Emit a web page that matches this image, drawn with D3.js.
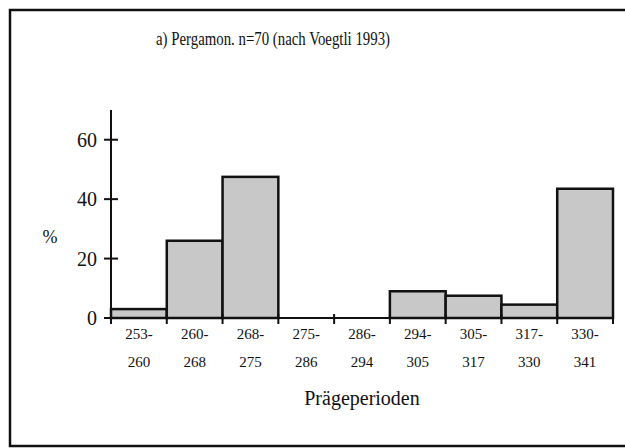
<!DOCTYPE html>
<html lang="en">
<head>
  <meta charset="UTF-8">
  <title>Pergamon</title>
  <script src="https://d3js.org/d3.v7.min.js"></script>
  <style>
    html, body {
      margin: 0;
      background-color: #ffffff;
      overflow: hidden;
    }
    svg {
      display: block;
    }
    svg text {
      font-family: 'Liberation Serif', 'DejaVu Serif', serif;
      fill: #111;
    }
  </style>
</head>
<body>
  <div id="chart"></div>
  <script>
    // periods (two-line tick labels) and share in %
    const periodFrom = ['253-', '260-', '268-', '275-', '286-', '294-', '305-', '317-', '330-']
    const periodTo = ['260', '268', '275', '286', '294', '305', '317', '330', '341']
    const percent = [3, 26, 47.5, 0, 0, 9, 7.5, 4.5, 43.5]
    const yTicks = [0, 20, 40, 60]

    const width = 625
    const height = 448

    const svg = d3.select('#chart').append('svg')
      .attr('width', width)
      .attr('height', height)

    // frame (right side runs off the picture)
    svg.append('path')
      .attr('d', 'M640,10 L10,10 L10,446 L640,446')
      .attr('fill', 'none')
      .attr('stroke', '#111')
      .attr('stroke-width', 2.5)

    const x = d3.scaleBand()
      .domain(d3.range(periodFrom.length))
      .range([111, 613])
      .padding(0)

    const y = d3.scaleLinear()
      .domain([0, 70])
      .range([318, 110])

    // bars
    svg.selectAll('.bar')
      .data(percent.map((v, i) => ({ v, i })).filter(d => d.v > 0))
      .enter()
      .append('rect')
      .attr('class', 'bar')
      .attr('x', d => x(d.i))
      .attr('y', d => y(d.v))
      .attr('width', x.bandwidth())
      .attr('height', d => y(0) - y(d.v))
      .attr('fill', '#c8c8c8')
      .attr('stroke', '#111')
      .attr('stroke-width', 2.5)

    // y axis
    svg.append('line')
      .attr('x1', 111).attr('x2', 111)
      .attr('y1', y(70)).attr('y2', y(0) + 3)
      .attr('stroke', '#111').attr('stroke-width', 2)

    svg.selectAll('.ytick')
      .data(yTicks)
      .enter()
      .append('line')
      .attr('x1', 104).attr('x2', 118)
      .attr('y1', d => y(d)).attr('y2', d => y(d))
      .attr('stroke', '#111').attr('stroke-width', 2)

    svg.selectAll('.ylabel')
      .data(yTicks)
      .enter()
      .append('text')
      .text(d => d)
      .attr('x', 97)
      .attr('y', d => y(d) + 7)
      .attr('text-anchor', 'end')
      .style('font-size', '20px')

    svg.append('text')
      .text('%')
      .attr('x', 50)
      .attr('y', 243)
      .attr('text-anchor', 'middle')
      .style('font-size', '18px')

    // x axis
    svg.append('line')
      .attr('x1', 111).attr('x2', 613)
      .attr('y1', y(0)).attr('y2', y(0))
      .attr('stroke', '#111').attr('stroke-width', 2)

    const edges = d3.range(periodFrom.length + 1).map(i => i < periodFrom.length ? x(i) : x(i - 1) + x.bandwidth())
    svg.selectAll('.xtick')
      .data(edges)
      .enter()
      .append('line')
      .attr('x1', d => d).attr('x2', d => d)
      .attr('y1', y(0) - 4).attr('y2', y(0) + 6)
      .attr('stroke', '#111').attr('stroke-width', 2)

    const xl = svg.selectAll('.xlabel')
      .data(periodFrom)
      .enter()
      .append('text')
      .attr('text-anchor', 'middle')
      .style('font-size', '15px')
    xl.append('tspan')
      .attr('x', (d, i) => x(i) + x.bandwidth() / 2)
      .attr('y', 339)
      .text(d => d)
    xl.append('tspan')
      .attr('x', (d, i) => x(i) + x.bandwidth() / 2)
      .attr('y', 367)
      .text((d, i) => periodTo[i])

    svg.append('text')
      .text('Prägeperioden')
      .attr('x', 362)
      .attr('y', 405)
      .attr('text-anchor', 'middle')
      .style('font-size', '20px')

    // title is set narrow in the source, squeeze it to the same width
    svg.append('text')
      .text('a) Pergamon. n=70 (nach Voegtli 1993)')
      .attr('x', 273)
      .attr('y', 45)
      .attr('textLength', 234)
      .attr('lengthAdjust', 'spacingAndGlyphs')
      .attr('text-anchor', 'middle')
      .style('font-size', '19.5px')
  </script>
</body>
</html>
